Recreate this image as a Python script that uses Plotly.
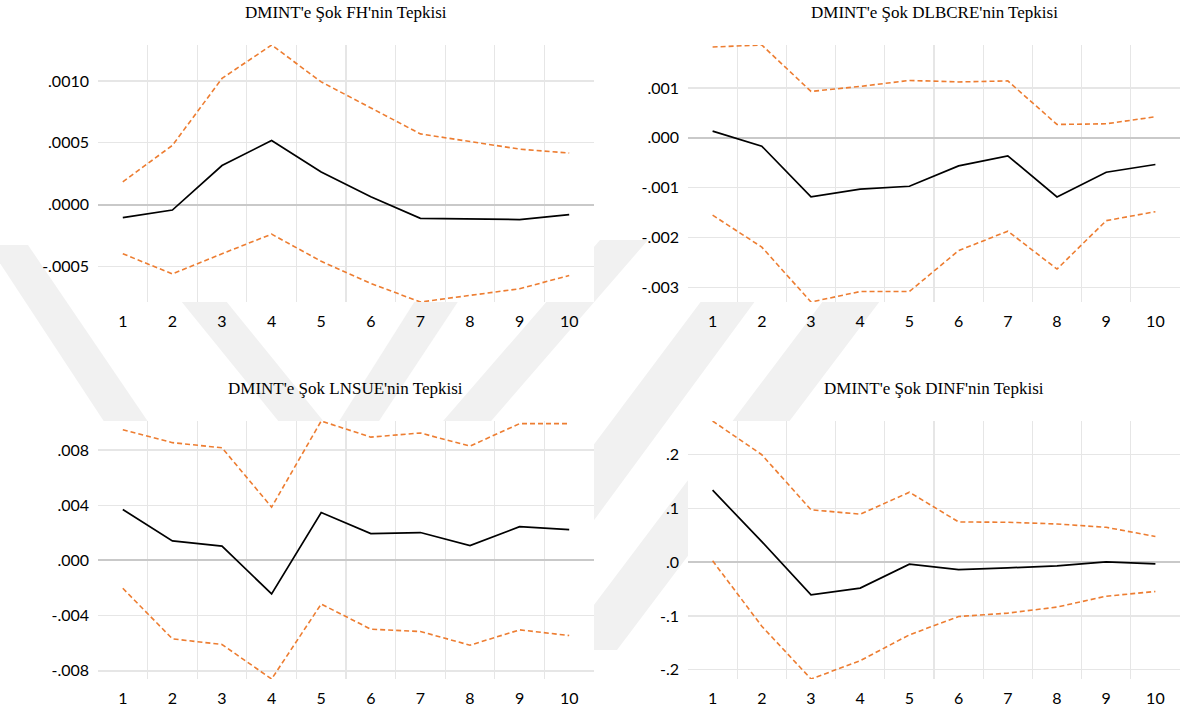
import plotly.graph_objects as go

W, H = 1191, 715

periods = [1, 2, 3, 4, 5, 6, 7, 8, 9, 10]

titles = [
    "DMINT'e Şok FH'nin Tepkisi",
    "DMINT'e Şok DLBCRE'nin Tepkisi",
    "DMINT'e Şok LNSUE'nin Tepkisi",
    "DMINT'e Şok DINF'nin Tepkisi",
]

# Panel 1: FH
fh_resp = [-0.000104, -0.000043, 0.000316, 0.000519, 0.000265, 0.000064, -0.000110, -0.000115, -0.000120, -0.000080]
fh_upper = [0.000184, 0.000479, 0.001020, 0.001290, 0.000992, 0.000780, 0.000572, 0.000510, 0.000449, 0.000417]
fh_lower = [-0.000396, -0.000559, -0.000396, -0.000238, -0.000457, -0.000636, -0.000786, -0.000733, -0.000679, -0.000572]
fh_ticks = [0.0010, 0.0005, 0.0, -0.0005]
fh_ticktext = [".0010", ".0005", ".0000", "-.0005"]

# Panel 2: DLBCRE
dl_resp = [0.000134, -0.000167, -0.001184, -0.001030, -0.000970, -0.000562, -0.000361, -0.001184, -0.000689, -0.000535]
dl_upper = [0.00182, 0.00186, 0.00093, 0.00103, 0.00115, 0.00112, 0.00114, 0.000268, 0.000281, 0.000421]
dl_lower = [-0.00155, -0.00219, -0.00329, -0.00308, -0.00308, -0.00226, -0.00187, -0.00263, -0.00166, -0.00148]
dl_ticks = [0.001, 0.0, -0.001, -0.002, -0.003]
dl_ticktext = [".001", ".000", "-.001", "-.002", "-.003"]

# Panel 3: LNSUE
ln_resp = [0.00369, 0.00141, 0.00104, -0.00243, 0.00347, 0.00194, 0.00202, 0.00107, 0.00245, 0.00223]
ln_upper = [0.00947, 0.00853, 0.00816, 0.00386, 0.01010, 0.00893, 0.00923, 0.00828, 0.00991, 0.00991]
ln_lower = [-0.00202, -0.00568, -0.00609, -0.00859, -0.00316, -0.00498, -0.00515, -0.00614, -0.00503, -0.00544]
ln_ticks = [0.008, 0.004, 0.0, -0.004, -0.008]
ln_ticktext = [".008", ".004", ".000", "-.004", "-.008"]

# Panel 4: DINF
di_resp = [0.1335, 0.0380, -0.0608, -0.0483, -0.0038, -0.0138, -0.0107, -0.0069, 0.0006, -0.0031]
di_upper = [0.2620, 0.1994, 0.0972, 0.0890, 0.1298, 0.0746, 0.0740, 0.0708, 0.0646, 0.0476]
di_lower = [0.0025, -0.1190, -0.2170, -0.1830, -0.1350, -0.1010, -0.0947, -0.0834, -0.0633, -0.0545]
di_ticks = [0.2, 0.1, 0.0, -0.1, -0.2]
di_ticktext = [".2", ".1", ".0", "-.1", "-.2"]

panels = [
    (fh_resp, fh_upper, fh_lower, fh_ticks, fh_ticktext),
    (dl_resp, dl_upper, dl_lower, dl_ticks, dl_ticktext),
    (ln_resp, ln_upper, ln_lower, ln_ticks, ln_ticktext),
    (di_resp, di_upper, di_lower, di_ticks, di_ticktext),
]

# layout geometry in pixels (left, right, top, bottom)
boxes = [
    (98, 594, 45, 302),
    (688, 1180, 45, 302),
    (98, 594, 421, 679),
    (688, 1180, 421, 679),
]
title_y_px = [12, 12, 388, 388]

# faint background watermark bands (decoration): (y_top, xl_top, xr_top, y_bot, xl_bot, xr_bot) in px
watermark = [
    (245, -12, 28, 560, 195, 242),
    (285, 168, 213, 470, 318, 363),
    (285, 425, 469, 480, 302, 340),
    (240, 600, 648, 480, 392, 440),
    (240, 747, 800, 610, 470, 528),
    (240, 869, 926, 650, 560, 617),
]

ORANGE = "#ED7D31"
GRID = "#e6e6e6"
ZERO = "#c9c9c9"
TICKFONT = dict(family="Lato, Carlito, 'Open Sans', sans-serif", size=16, color="#000000")


def px2paper(px, py):
    return px / W, 1 - py / H


fig = go.Figure()
layout = dict(
    width=W, height=H,
    margin=dict(l=0, r=0, t=0, b=0),
    paper_bgcolor="white",
    plot_bgcolor="rgba(0,0,0,0)",
    showlegend=False,
    annotations=[],
    shapes=[],
)

for (yt, xlt, xrt, yb, xlb, xrb) in watermark:
    pts = [(xlt, yt), (xrt, yt), (xrb, yb), (xlb, yb)]
    path = "M " + " L ".join("{:.5f},{:.5f}".format(*px2paper(px, py)) for px, py in pts) + " Z"
    layout["shapes"].append(dict(type="path", path=path, xref="paper", yref="paper",
                                 fillcolor="#f1f1f1", line=dict(width=0), layer="below"))

# opaque white plot areas hide the watermark inside the panels
for (l, r, t, b) in boxes:
    x0, y0 = px2paper(l, b)
    x1, y1 = px2paper(r, t)
    layout["shapes"].append(dict(type="rect", xref="paper", yref="paper",
                                 x0=x0, x1=x1, y0=y0, y1=y1,
                                 fillcolor="white", line=dict(width=0), layer="below"))

for i, (resp, up, lo, tv, tt) in enumerate(panels):
    n = i + 1
    xa = "x" if n == 1 else f"x{n}"
    ya = "y" if n == 1 else f"y{n}"
    for series, color, dash, width in ((up, ORANGE, "5px,3px", 1.6),
                                       (lo, ORANGE, "5px,3px", 1.6),
                                       (resp, "#000000", "solid", 1.7)):
        fig.add_trace(go.Scatter(x=periods, y=series, mode="lines",
                                 line=dict(color=color, width=width, dash=dash),
                                 xaxis=xa, yaxis=ya, hoverinfo="skip"))
    l, r, t, b = boxes[i]
    xdom = [l / W, r / W]
    ydom = [1 - b / H, 1 - t / H]
    key = "" if n == 1 else str(n)
    layout["xaxis" + key] = dict(
        domain=xdom, anchor=ya,
        range=[periods[0] - 0.5, periods[-1] + 0.5],
        tickmode="array", tickvals=periods, ticktext=[str(p) for p in periods],
        showgrid=False, zeroline=False, showline=False, ticks="",
        tickfont=TICKFONT, ticklabelstandoff=8,
        minor=dict(tickmode="array", tickvals=[p + 0.5 for p in periods[:-1]],
                   showgrid=True, gridcolor=GRID, gridwidth=1.3, ticks=""),
        fixedrange=True,
    )
    layout["yaxis" + key] = dict(
        domain=ydom, anchor=xa,
        range=[min(lo), max(up)],
        tickmode="array", tickvals=tv, ticktext=tt,
        showgrid=True, gridcolor=GRID, gridwidth=1.3,
        zeroline=True, zerolinecolor=ZERO, zerolinewidth=2,
        showline=False, ticks="", tickfont=TICKFONT, ticklabelstandoff=8,
        fixedrange=True,
    )
    layout["annotations"].append(dict(
        text=titles[i], xref="paper", yref="paper",
        x=(l + r) / 2 / W, y=1 - title_y_px[i] / H,
        xanchor="center", yanchor="middle", showarrow=False,
        font=dict(family="'Liberation Serif', 'Times New Roman', serif", size=17, color="#000000"),
    ))

fig.update_layout(**layout)
fig.write_html("out.html", config={"displayModeBar": False, "staticPlot": True},
               post_script="document.body.style.margin='0';")
